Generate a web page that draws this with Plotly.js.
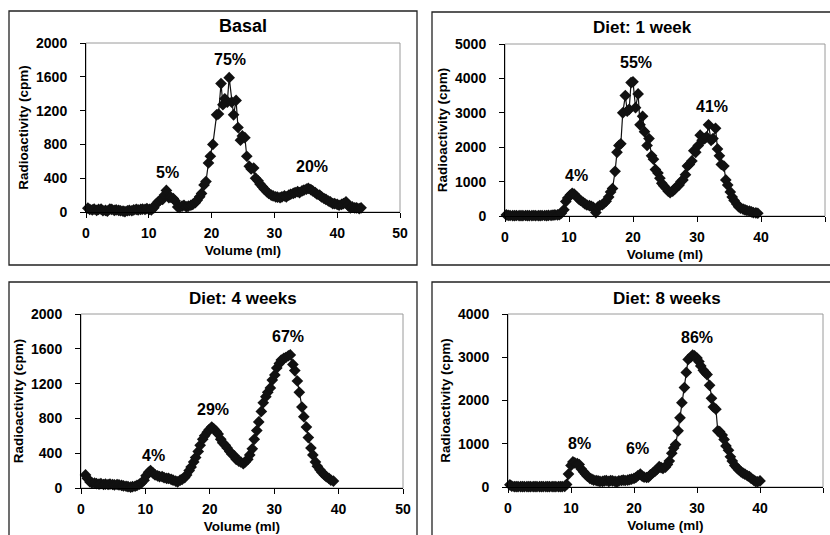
<!DOCTYPE html>
<html>
<head>
<meta charset="utf-8">
<script src="https://cdn.plot.ly/plotly-3.0.1.min.js"></script>
<style>html,body{margin:0;padding:0;background:#fff;}#chart{width:830px;height:535px;}</style>
</head>
<body>
<div id="chart"></div>
<script>
// ---- Data ----
const panelTitles = ["Basal", "Diet: 1 week", "Diet: 4 weeks", "Diet: 8 weeks"];
const xTitle = "Volume (ml)";
const yTitle = "Radioactivity (cpm)";

const basalVol = [0.3,0.6,1.0,1.3,1.7,2.0,2.4,2.7,3.1,3.4,3.8,4.1,4.5,4.8,5.2,5.5,5.9,6.2,6.6,6.9,7.3,7.6,8.0,8.3,8.7,9.0,9.4,9.7,10.1,10.4,10.8,11.1,11.5,11.8,12.2,12.5,12.8,13.2,13.5,13.9,14.2,14.6,14.9,15.3,15.6,16.0,16.3,16.7,17.0,17.4,17.7,18.1,18.4,18.8,19.1,19.5,19.8,20.2,20.8,21.1,21.5,21.8,22.1,22.5,22.8,23.2,23.5,23.9,24.2,24.6,24.9,25.3,25.6,26.0,26.3,26.7,27.0,27.4,27.7,28.1,28.4,28.8,29.1,29.5,29.8,30.2,30.5,30.9,31.2,31.6,31.9,32.3,32.6,33.0,33.3,33.7,34.0,34.4,34.7,35.1,35.4,35.8,36.1,36.5,36.8,37.2,37.5,37.9,38.2,38.6,38.9,39.3,39.6,40.0,40.3,40.7,41.0,41.4,41.7,42.1,42.4,42.8,43.1,43.5,43.8];
const basalCpm = [45,30,25,35,20,30,35,15,20,10,35,30,20,25,20,15,10,5,15,20,15,25,30,25,30,35,30,40,30,25,50,90,120,140,150,200,255,170,175,160,130,60,55,70,80,60,70,80,90,110,140,180,220,320,360,580,660,800,1150,1160,1520,1270,1340,1300,1590,1300,1150,1320,1000,850,900,880,660,540,510,520,400,370,330,300,270,240,220,200,190,180,175,170,180,190,180,200,210,220,230,240,230,250,260,270,280,265,250,230,210,200,180,160,150,130,120,100,100,90,80,90,100,120,80,50,60,50,50,40,50];

const week1Vol = [0.2,0.5,0.8,1.2,1.5,1.8,2.2,2.5,2.8,3.2,3.5,3.8,4.2,4.5,4.8,5.2,5.5,5.8,6.2,6.5,6.8,7.2,7.5,7.8,8.2,8.5,8.8,9.2,9.5,9.8,10.2,10.5,10.8,11.2,11.5,11.8,12.2,12.5,12.8,13.2,13.5,13.8,14.2,14.5,14.8,15.2,15.5,15.8,16.2,16.5,16.8,17.2,17.5,17.8,18.1,18.4,18.8,19.1,19.4,19.7,20.0,20.4,20.8,21.1,21.5,21.8,22.2,22.5,22.9,23.2,23.5,23.9,24.2,24.5,24.8,25.2,25.5,25.8,26.2,26.5,26.8,27.2,27.5,27.8,28.2,28.5,28.8,29.2,29.5,29.8,30.2,30.5,30.8,31.2,31.5,31.8,32.2,32.5,32.9,33.2,33.5,33.8,34.2,34.5,34.8,35.2,35.5,35.8,36.2,36.5,36.8,37.2,37.5,37.8,38.2,38.5,38.8,39.2,39.5];
const week1Cpm = [30,20,15,10,10,15,10,10,10,15,10,10,10,15,10,10,10,15,15,10,20,20,25,30,30,40,80,180,420,520,610,660,640,560,500,450,400,350,320,300,280,250,100,260,300,330,380,430,550,700,800,1300,1850,2050,2100,3000,3500,3050,3100,3880,3900,3150,3550,2650,2900,2450,2050,2250,1750,1650,1350,1250,1100,950,880,800,720,680,720,780,850,900,1000,1050,1200,1450,1500,1600,1900,1850,2050,2350,2200,2250,2300,2650,2200,2250,2550,1950,1750,1500,1450,1050,900,700,550,450,350,270,230,200,180,160,140,120,100,90,80];

const week4Vol = [0.7,1.0,1.4,1.7,2.1,2.4,2.8,3.1,3.5,3.8,4.2,4.5,4.9,5.2,5.6,5.9,6.3,6.6,7.0,7.3,7.7,8.0,8.4,8.7,9.1,9.4,9.8,10.1,10.5,10.8,11.2,11.5,11.9,12.2,12.6,12.9,13.3,13.6,14.0,14.3,14.7,15.0,15.4,15.7,16.1,16.4,16.8,17.1,17.5,17.8,18.2,18.5,18.9,19.2,19.6,19.9,20.3,20.6,21.0,21.3,21.7,22.0,22.4,22.7,23.1,23.4,23.8,24.1,24.5,24.8,25.2,25.5,25.9,26.2,26.6,26.9,27.3,27.6,28.0,28.3,28.7,29.0,29.4,29.7,30.1,30.4,30.8,31.1,31.5,31.8,32.2,32.5,32.9,33.2,33.6,33.9,34.3,34.6,35.0,35.3,35.7,36.0,36.4,36.7,37.1,37.4,37.8,38.1,38.5,38.8,39.2];
const week4Cpm = [150,110,70,60,55,50,45,50,40,45,40,45,40,35,40,35,30,25,20,15,10,15,20,30,45,60,90,140,180,200,170,150,140,130,130,120,110,110,100,90,80,70,90,100,120,150,200,240,300,350,420,490,560,600,640,670,700,680,650,620,560,520,490,460,420,390,370,330,310,300,280,300,330,380,450,560,660,760,880,980,1050,1100,1150,1240,1300,1380,1430,1470,1490,1500,1520,1530,1420,1350,1230,1100,930,820,700,580,460,380,300,250,210,180,150,130,110,90,80];

const week8Vol = [0.3,0.6,1.0,1.3,1.6,2.0,2.3,2.6,3.0,3.3,3.6,4.0,4.3,4.6,5.0,5.3,5.6,6.0,6.3,6.6,7.0,7.3,7.6,8.0,8.3,8.6,9.0,9.3,9.6,10.0,10.3,10.6,11.0,11.3,11.6,12.0,12.3,12.6,13.0,13.3,13.6,14.0,14.3,14.6,15.0,15.3,15.6,16.0,16.3,16.6,17.0,17.3,17.6,18.0,18.3,18.6,19.0,19.3,19.6,20.0,20.3,20.6,21.0,21.3,21.6,22.0,22.3,22.6,23.0,23.3,23.6,24.0,24.3,24.6,25.0,25.3,25.6,26.0,26.3,26.6,27.0,27.3,27.6,28.0,28.3,28.6,29.0,29.3,29.6,30.0,30.3,30.6,31.0,31.3,31.6,32.0,32.3,32.6,33.0,33.3,33.6,34.0,34.3,34.6,35.0,35.3,35.6,36.0,36.3,36.6,37.0,37.3,37.6,38.0,38.3,38.6,39.0,39.3,39.6,40.0];
const week8Cpm = [50,20,10,10,10,10,10,10,10,10,10,10,10,10,10,10,10,10,10,10,10,10,10,10,10,10,15,60,300,500,580,560,540,520,420,350,300,250,200,180,160,150,140,130,130,140,150,130,150,140,130,120,140,150,160,150,160,170,180,200,220,260,300,250,230,220,230,280,330,360,400,470,450,430,460,520,600,780,900,980,1300,1600,1950,2300,2650,2950,3000,3050,3030,2980,2900,2800,2700,2650,2600,2350,2050,1850,1800,1300,1280,1200,1100,950,850,700,600,500,450,400,350,320,300,260,240,200,160,130,120,140];

const pctLabels = [["5%","75%","20%"],["4%","55%","41%"],["4%","29%","67%"],["8%","6%","86%"]];

// ---- Layout helpers ----
const W = 830, H = 535;
const px = v => v / W;
const py = v => 1 - v / H;
const FONT = "Liberation Sans, Arial, Helvetica, sans-serif";

const panels = [
  {vol: basalVol, cpm: basalCpm, xd:[86,400], yd:[43,212], ymax:2000, dt:400, frame:[9,417,11,265], tx:243, ty:26,
   ann:[[12.9,473],[22.9,1800],[36,533]]},
  {vol: week1Vol, cpm: week1Cpm, xd:[505,825], yd:[44,216], ymax:5000, dt:1000, frame:[432,840,12,265], tx:642, ty:28,
   ann:[[11.1,1163],[20.5,4450],[32.3,3170]]},
  {vol: week4Vol, cpm: week4Cpm, xd:[81,403], yd:[314,488], ymax:2000, dt:400, frame:[9,417,282,545], tx:243, ty:298,
   ann:[[11.3,379],[20.5,908],[32.1,1747]]},
  {vol: week8Vol, cpm: week8Cpm, xd:[508,823], yd:[314,487], ymax:4000, dt:1000, frame:[432,840,282,545], tx:667, ty:298,
   ann:[[11.3,1017],[20.5,879],[30.0,3468]]}
];

const traces = [];
const layout = {
  width: W, height: H,
  margin: {l:0, r:0, t:0, b:0},
  paper_bgcolor: "#fff", plot_bgcolor: "#fff",
  showlegend: false,
  font: {family: FONT, color: "#000"},
  shapes: [], annotations: []
};

panels.forEach((p, i) => {
  const n = i === 0 ? "" : String(i + 1);
  traces.push({
    type: "scatter", mode: "lines+markers",
    x: p.vol, y: p.cpm,
    xaxis: "x" + n, yaxis: "y" + n,
    line: {color: "#111", width: 1.2},
    marker: {symbol: "diamond", size: 9, color: "#111"},
    cliponaxis: false, hoverinfo: "skip"
  });
  const axBase = {
    showgrid: false, zeroline: false,
    showline: true, linecolor: "#000", linewidth: 1,
    ticks: "outside", ticklen: 5, tickwidth: 1, tickcolor: "#000",
    tickfont: {family: FONT, size: 14, weight: "bold", color: "#000"},
    automargin: false, fixedrange: true
  };
  layout["xaxis" + n] = Object.assign({}, axBase, {
    domain: [px(p.xd[0]), px(p.xd[1])],
    range: [0, 50], tick0: 0, dtick: 10,
    anchor: "y" + n,
    ticklabelstandoff: 3,
    title: {text: xTitle, font: {family: FONT, size: 13.5, weight: "bold", color: "#000"}, standoff: 5}
  });
  layout["yaxis" + n] = Object.assign({}, axBase, {
    domain: [py(p.yd[1]), py(p.yd[0])],
    range: [0, p.ymax], tick0: 0, dtick: p.dt,
    anchor: "x" + n,
    ticklabelstandoff: 10,
    title: {text: yTitle, font: {family: FONT, size: 13.5, weight: "bold", color: "#000"}, standoff: 4}
  });
  // grey plot-area border (top and right)
  layout.shapes.push({type: "rect", xref: "x" + n + " domain", yref: "y" + n + " domain",
    x0: 0, x1: 1, y0: 0, y1: 1, line: {color: "#9a9a9a", width: 1}, layer: "below"});
  // outer frame
  layout.shapes.push({type: "rect", xref: "paper", yref: "paper",
    x0: px(p.frame[0]), x1: px(p.frame[1]), y0: py(p.frame[3]), y1: py(p.frame[2]),
    line: {color: "#222", width: 1.3}, layer: "above"});
  // panel title
  layout.annotations.push({text: panelTitles[i], xref: "paper", yref: "paper",
    x: px(p.tx), y: py(p.ty), xanchor: "center", yanchor: "middle", showarrow: false,
    font: {family: FONT, size: i === 0 ? 18 : 17, weight: "bold", color: "#000"}});
  // peak percentages
  p.ann.forEach((a, k) => {
    layout.annotations.push({text: pctLabels[i][k], xref: "x" + n, yref: "y" + n,
      x: a[0], y: a[1], xanchor: "center", yanchor: "middle", showarrow: false,
      font: {family: FONT, size: 16, weight: "bold", color: "#000"}});
  });
});

Plotly.newPlot("chart", traces, layout, {staticPlot: true, displayModeBar: false});
</script>
</body>
</html>
